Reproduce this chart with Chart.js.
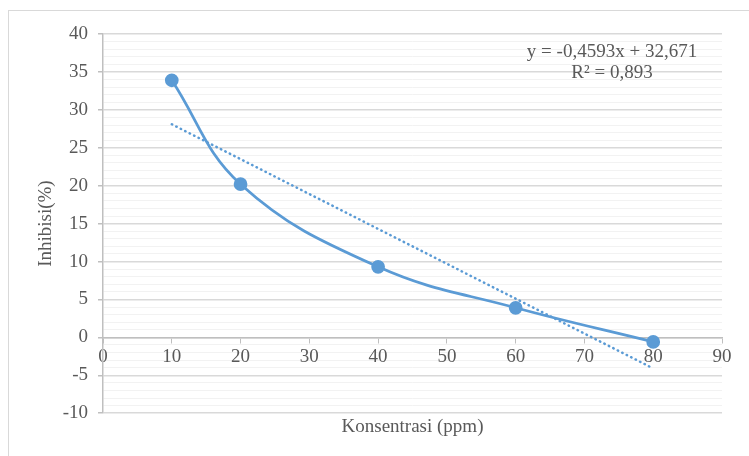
<!DOCTYPE html>
<html>
<head>
<meta charset="utf-8">
<script src="https://cdn.jsdelivr.net/npm/chart.js@4/dist/chart.umd.min.js"></script>
<style>
  html, body { margin: 0; padding: 0; background: #fff; overflow: hidden; }
  .frame { position: absolute; left: 8px; top: 10px; width: 800px; height: 500px; border: 1px solid #d9d9d9; }
  .wrap { position: absolute; left: 0; top: 0; width: 749px; height: 456px; }
</style>
</head>
<body>
<div class="frame"></div>
<div class="wrap"><canvas id="chart" width="749" height="456"></canvas></div>
<script>
// --- Data ---
const konsentrasi = [10, 20, 40, 60, 80];
const inhibisi = [33.9, 20.2, 9.3, 3.9, -0.6];
// linear trendline endpoints
const trendX = [10, 80];
const trendY = [28.1, -4.1];
const equationLines = ["y = -0,4593x + 32,671", "R² = 0,893"];

const textColor = "#595959";
const serif = "'Liberation Serif', 'DejaVu Serif', serif";
const blue = "#5b9bd5";

// draws the trendline equation in the top right of the plot
const equationLabel = {
  id: "equationLabel",
  afterDatasetsDraw(chart) {
    const { ctx, chartArea } = chart;
    ctx.save();
    ctx.font = "19px " + serif;
    ctx.fillStyle = textColor;
    ctx.textAlign = "center";
    ctx.textBaseline = "middle";
    const cx = chartArea.right - 110;
    equationLines.forEach((line, i) => {
      ctx.fillText(line, cx, chartArea.top + 18 + i * 21);
    });
    ctx.restore();
  },
};

new Chart(document.getElementById("chart"), {
  type: "scatter",
  data: {
    datasets: [
      {
        label: "Inhibisi",
        data: konsentrasi.map((x, i) => ({ x, y: inhibisi[i] })),
        showLine: true,
        tension: 0.4,
        borderColor: blue,
        backgroundColor: blue,
        borderWidth: 2.75,
        pointRadius: 5.5,
        pointHoverRadius: 5.5,
      },
      {
        label: "Linear",
        data: trendX.map((x, i) => ({ x, y: trendY[i] })),
        showLine: true,
        borderColor: blue,
        borderWidth: 2.5,
        borderDash: [0.5, 4.5],
        borderCapStyle: "round",
        pointRadius: 0,
      },
    ],
  },
  options: {
    responsive: false,
    animation: false,
    layout: { padding: { left: 35, top: 34, right: 27, bottom: 18 } },
    plugins: {
      legend: { display: false },
      tooltip: { enabled: false },
      title: {
        display: true,
        position: "bottom",
        fullSize: false,
        text: "Konsentrasi (ppm)",
        color: textColor,
        font: { family: serif, size: 19, weight: "normal" },
        padding: { top: 2, bottom: 0 },
      },
    },
    scales: {
      x: {
        type: "linear",
        position: { y: 0 },
        min: 0,
        max: 90,
        ticks: {
          stepSize: 10,
          color: textColor,
          font: { family: serif, size: 19 },
          padding: 3,
        },
        grid: {
          drawOnChartArea: false,
          drawTicks: true,
          tickLength: 5,
          tickColor: "#bfbfbf",
        },
        border: { color: "#bfbfbf", width: 1.5 },
      },
      y: {
        min: -10,
        max: 40,
        afterFit: (scale) => { scale.width = 68; },
        ticks: {
          stepSize: 1,
          autoSkip: false,
          color: textColor,
          font: { family: serif, size: 19 },
          padding: 10,
          callback: (v) => (v % 5 === 0 ? String(v) : ""),
        },
        grid: {
          color: (c) => (c.tick && c.tick.value % 5 === 0 ? "#d9d9d9" : "#f2f2f2"),
          lineWidth: (c) => (c.tick && c.tick.value % 5 === 0 ? 1.5 : 1),
          tickColor: (c) => (c.tick && c.tick.value % 5 === 0 ? "#bfbfbf" : "rgba(0,0,0,0)"),
          tickLength: 5,
        },
        border: { color: "#bfbfbf", width: 1.5 },
        title: {
          display: true,
          text: "Inhibisi(%)",
          color: textColor,
          font: { family: serif, size: 19 },
          padding: 0,
        },
      },
    },
  },
  plugins: [equationLabel],
});
</script>
</body>
</html>
